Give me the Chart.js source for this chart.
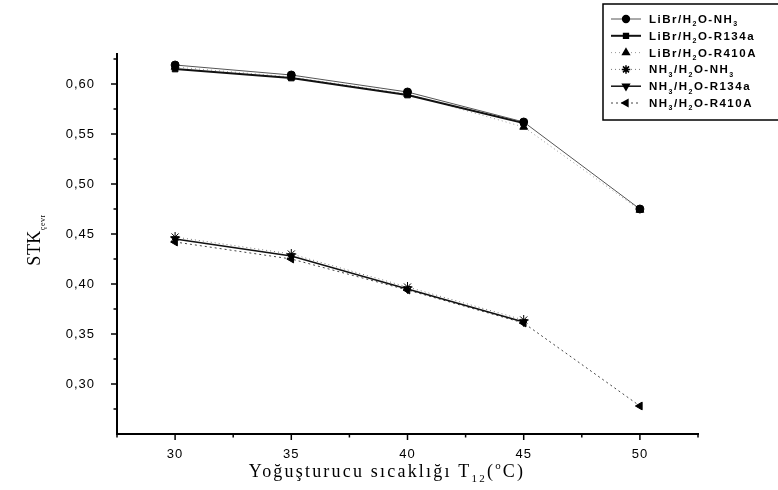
<!DOCTYPE html>
<html>
<head>
<meta charset="utf-8">
<script src="https://cdn.jsdelivr.net/npm/chart.js@4.4.1/dist/chart.umd.min.js"></script>
<style>
  html, body { margin: 0; padding: 0; background: #fff; }
  #wrap { width: 778px; height: 490px; position: relative; }
</style>
</head>
<body>
<div id="wrap"><canvas id="chart"></canvas></div>
<script>
// ============================================
// Data
// ============================================
const temps = [30, 35, 40, 45, 50];
const librNH3   = [0.619, 0.609, 0.592, 0.562, 0.475];
const librR134a = [0.615, 0.606, 0.589, 0.561, null];
const librR410A = [0.617, 0.607, 0.590, 0.557, 0.474];
const nh3NH3    = [0.447, 0.430, 0.397, 0.364, null];
const nh3R134a  = [0.445, 0.428, 0.395, 0.362, null];
const nh3R410A  = [0.442, 0.425, 0.394, 0.361, 0.278];

const seriesNames = [
    'LiBr/H_2O-NH_3', 'LiBr/H_2O-R134a', 'LiBr/H_2O-R410A',
    'NH_3/H_2O-NH_3', 'NH_3/H_2O-R134a', 'NH_3/H_2O-R410A'
];

const yMajorTicks = [0.30, 0.35, 0.40, 0.45, 0.50, 0.55, 0.60];
const yMinorTicks = [0.275, 0.325, 0.375, 0.425, 0.475, 0.525, 0.575, 0.625];
const xMajorTicks = [30, 35, 40, 45, 50];
const xMinorTicks = [27.5, 32.5, 37.5, 42.5, 47.5, 52.5];

const xTitle = 'Yoğuşturucu sıcaklığı T_{12}(^{o}C)';
const yTitle = 'STK_{çevr}';

const toPoints = arr => temps.map((t, i) => ({ x: t, y: arr[i] }));

// ============================================
// Rich text with sub/superscripts: _x, _{..}, ^{..}
// ============================================
function parseRich(str) {
    const parts = [];
    let i = 0, buf = '';
    while (i < str.length) {
        const c = str[i];
        if ((c === '_' || c === '^') && i + 1 < str.length) {
            if (buf) { parts.push({ t: buf, k: 'n' }); buf = ''; }
            const kind = c === '_' ? 'sub' : 'sup';
            if (str[i + 1] === '{') {
                const end = str.indexOf('}', i + 2);
                parts.push({ t: str.slice(i + 2, end), k: kind });
                i = end + 1;
            } else {
                parts.push({ t: str[i + 1], k: kind });
                i += 2;
            }
        } else { buf += c; i++; }
    }
    if (buf) parts.push({ t: buf, k: 'n' });
    return parts;
}

function drawRich(ctx, str, x, y, o) {
    const parts = parseRich(str);
    const small = Math.round(o.size * (o.smallRatio || 0.6));
    const fontFor = k => `${o.weight || 'normal'} ${k === 'n' ? o.size : small}px ${o.family}`;
    ctx.save();
    ctx.letterSpacing = (o.spacing || 0) + 'px';
    ctx.textBaseline = 'alphabetic';
    ctx.textAlign = 'left';
    let w = 0;
    parts.forEach(p => { ctx.font = fontFor(p.k); p.w = ctx.measureText(p.t).width; w += p.w; });
    let cx = o.align === 'center' ? x - w / 2 : x;
    parts.forEach(p => {
        ctx.font = fontFor(p.k);
        let dy = 0;
        if (p.k === 'sub') dy = o.size * 0.3;
        if (p.k === 'sup') dy = -o.size * 0.45;
        ctx.fillText(p.t, cx, y + dy);
        cx += p.w;
    });
    ctx.restore();
}

// ============================================
// Ticks, titles and legend overlay
// ============================================
const overlay = {
    id: 'overlay',
    beforeDraw(chart) {
        chart.ctx.letterSpacing = '1px';
    },
    afterDraw(chart) {
        const ctx = chart.ctx;
        const xs = chart.scales.x, ys = chart.scales.y, a = chart.chartArea;
        ctx.save();
        ctx.letterSpacing = '0px';
        ctx.strokeStyle = '#000';
        ctx.lineWidth = 1.5;
        const seg = (x1, y1, x2, y2) => { ctx.beginPath(); ctx.moveTo(x1, y1); ctx.lineTo(x2, y2); ctx.stroke(); };
        yMajorTicks.forEach(v => { const y = ys.getPixelForValue(v); seg(a.left - 6, y, a.left, y); });
        yMinorTicks.forEach(v => { const y = ys.getPixelForValue(v); seg(a.left - 3.5, y, a.left, y); });
        xMajorTicks.forEach(v => { const x = xs.getPixelForValue(v); seg(x, a.bottom, x, a.bottom + 6); });
        xMinorTicks.forEach(v => { const x = xs.getPixelForValue(v); seg(x, a.bottom, x, a.bottom + 3.5); });

        // axis titles
        ctx.fillStyle = '#000';
        drawRich(ctx, xTitle, 387, 477, { size: 18, family: '"Liberation Serif", serif', spacing: 2.2, align: 'center' });
        ctx.save();
        ctx.translate(40, 240);
        ctx.rotate(-Math.PI / 2);
        drawRich(ctx, yTitle, 0, 0, { size: 18, family: '"Liberation Serif", serif', spacing: 0.5, smallRatio: 0.45, align: 'center' });
        ctx.restore();

        // legend box
        const bx = 603, by = 4, bw = 180, bh = 116;
        ctx.lineWidth = 1.5;
        ctx.strokeRect(bx, by, bw, bh);
        chart.data.datasets.forEach((ds, i) => {
            const ry = 19 + i * 16.8;
            ctx.save();
            ctx.strokeStyle = ds.borderColor;
            ctx.lineWidth = ds.borderWidth;
            ctx.setLineDash(ds.borderDash || []);
            seg(611, ry, 641, ry);
            ctx.restore();
            ctx.save();
            ctx.fillStyle = '#000';
            ctx.strokeStyle = '#000';
            Chart.helpers.drawPoint(ctx, {
                pointStyle: ds.pointStyle,
                radius: ds.pointRadius * 0.85,
                rotation: ds.pointRotation || 0,
                borderWidth: 1
            }, 626, ry);
            ctx.restore();
            ctx.fillStyle = '#000';
            drawRich(ctx, ds.label, 649, ry + 4, { size: 11.5, weight: 'bold', family: '"Liberation Sans", Arial, sans-serif', spacing: 1.5 });
        });
        ctx.restore();
    }
};

// ============================================
// Chart
// ============================================
const common = {
    pointBackgroundColor: '#000',
    pointBorderColor: '#000',
    pointBorderWidth: 1,
    fill: false,
    tension: 0
};

new Chart(document.getElementById('chart'), {
    type: 'line',
    data: {
        datasets: [
            { ...common, label: seriesNames[0], data: toPoints(librNH3), borderColor: '#555', borderWidth: 1, pointStyle: 'circle', pointRadius: 4 },
            { ...common, label: seriesNames[1], data: toPoints(librR134a), borderColor: '#111', borderWidth: 2, pointStyle: 'rect', pointRadius: 4 },
            { ...common, label: seriesNames[2], data: toPoints(librR410A), borderColor: '#999', borderWidth: 1, borderDash: [1, 3], pointStyle: 'triangle', pointRadius: 4.5 },
            { ...common, label: seriesNames[3], data: toPoints(nh3NH3), borderColor: '#777', borderWidth: 1, borderDash: [1, 3], pointStyle: 'star', pointRadius: 5 },
            { ...common, label: seriesNames[4], data: toPoints(nh3R134a), borderColor: '#111', borderWidth: 1.5, pointStyle: 'triangle', pointRotation: 180, pointRadius: 4.5 },
            { ...common, label: seriesNames[5], data: toPoints(nh3R410A), borderColor: '#444', borderWidth: 1, borderDash: [2, 3], pointStyle: 'triangle', pointRotation: 270, pointRadius: 4.5 }
        ]
    },
    options: {
        responsive: true,
        maintainAspectRatio: false,
        animation: false,
        layout: { padding: { left: 0, top: 54, right: 80, bottom: 0 } },
        plugins: {
            legend: { display: false },
            tooltip: { enabled: false }
        },
        scales: {
            x: {
                type: 'linear',
                min: 27.5,
                max: 52.5,
                grid: { display: false },
                border: { display: true, color: '#000', width: 2 },
                afterBuildTicks: scale => { scale.ticks = xMajorTicks.map(v => ({ value: v })); },
                afterFit: scale => { scale.height = 56; },
                ticks: {
                    padding: 5,
                    color: '#000',
                    font: { family: '"Liberation Sans", Arial, sans-serif', size: 13 },
                    callback: v => String(v)
                }
            },
            y: {
                min: 0.25,
                max: 0.63,
                grid: { display: false },
                border: { display: true, color: '#000', width: 2 },
                afterBuildTicks: scale => { scale.ticks = yMajorTicks.map(v => ({ value: v })); },
                afterFit: scale => { scale.width = 117; },
                ticks: {
                    padding: 14,
                    color: '#000',
                    font: { family: '"Liberation Sans", Arial, sans-serif', size: 13 },
                    callback: v => v.toFixed(2).replace('.', ',')
                }
            }
        }
    },
    plugins: [overlay]
});
</script>
</body>
</html>
